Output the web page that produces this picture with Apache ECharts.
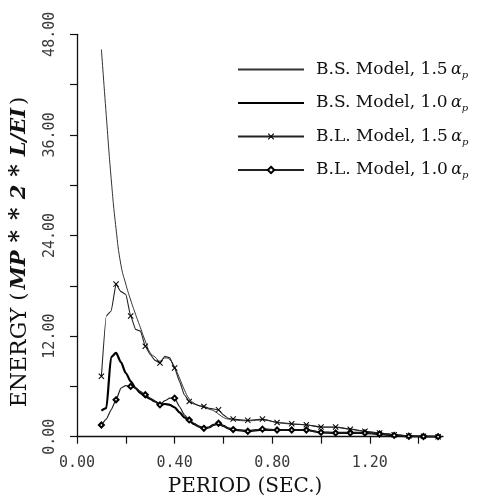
<!DOCTYPE html>
<html><head><meta charset="utf-8">
<script src="https://cdn.jsdelivr.net/npm/echarts@6/dist/echarts.min.js"></script>
<style>html,body{margin:0;padding:0;background:#fff}#c{width:490px;height:503px}</style>
</head><body><div id="c"></div>
<script>
const period = [0.10,0.12,0.14,0.16,0.18,0.20,0.22,0.24,0.26,0.28,0.30,0.32,0.34,0.36,0.38,0.40,0.42,0.44,0.46,0.48,0.50,0.52,0.54,0.56,0.58,0.60,0.62,0.64,0.70,0.76,0.82,0.88,0.94,1.00,1.06,1.12,1.18,1.24,1.30,1.36,1.42,1.48];
const bs15 = [46.2,38.3,30.8,24.8,20.5,18.2,16.3,14.6,13.0,11.4,10.0,9.5,9.0,9.4,9.2,8.3,7.0,5.6,4.5,4.0,3.7,3.5,3.3,3.1,2.7,2.3,2.1,2.0,1.9,2.0,1.7,1.5,1.4,1.15,1.1,0.9,0.65,0.45,0.25,0.1,0.05,0.0];
const bs10 = [3.1,3.4,9.5,10.0,8.9,7.6,6.6,5.8,5.2,4.8,4.5,4.2,3.8,3.9,3.8,3.5,2.9,2.3,1.9,1.5,1.2,1.0,1.1,1.4,1.55,1.3,1.0,0.85,0.65,0.85,0.8,0.8,0.8,0.5,0.45,0.45,0.45,0.32,0.15,0.05,0.0,0.0];
const bl15 = [7.2,14.4,15.0,18.2,17.3,17.0,14.4,12.8,12.6,10.8,9.8,9.1,8.8,9.6,9.4,8.2,6.6,5.0,4.2,3.9,3.7,3.6,3.4,3.3,3.2,2.6,2.2,2.1,1.95,2.1,1.7,1.55,1.43,1.15,1.15,0.9,0.64,0.44,0.24,0.1,0.05,0.0];
const bl10 = [1.4,2.1,3.2,4.4,5.8,6.1,6.0,5.8,5.4,5.0,4.6,4.2,3.8,4.3,4.6,4.6,3.6,2.6,2.0,1.6,1.2,1.0,1.1,1.4,1.6,1.3,1.0,0.85,0.65,0.9,0.8,0.8,0.8,0.52,0.45,0.45,0.44,0.32,0.16,0.05,0.02,0.0];
const seriesNames = ['B.S. Model, 1.5','B.S. Model, 1.0','B.L. Model, 1.5','B.L. Model, 1.0'];
const yTickValues = [0,6,12,18,24,30,36,42,48];
const yLabelValues = [0,12,24,36,48];
const xTickValues = [0,0.2,0.4,0.6,0.8,1.0,1.2,1.4];
const xLabelValues = [0,0.4,0.8,1.2];

const pair = arr => period.map((p, i) => [p, arr[i]]);
const markerSize = size => val => {
  const k = (val[0] - 0.10) / 0.06;
  return Math.abs(k - Math.round(k)) < 1e-6 ? size : 0;
};
const crossPath = 'path://M0,1.2L1.2,0L10,8.8L8.8,10ZM8.8,0L10,1.2L1.2,10L0,8.8Z';
const tickFont = {fontFamily: 'DejaVu Sans Mono', fontSize: 15, color: '#3a3a3a'};

const chart = echarts.init(document.getElementById('c'), null, {renderer: 'canvas'});
chart.setOption({
  backgroundColor: '#fff',
  animation: false,
  grid: {left: 72.3, right: 47, top: 34.3, bottom: 66.3, containLabel: false},
  legend: {
    orient: 'vertical', left: 237, top: 61, padding: 0,
    itemWidth: 66, itemHeight: 8, itemGap: 14.5,
    data: [
      {name: seriesNames[0], itemStyle: {opacity: 0}},
      {name: seriesNames[1], itemStyle: {opacity: 0}},
      {name: seriesNames[2]},
      {name: seriesNames[3]}
    ],
    formatter: n => `{t|${n}} {a|α}{p|p}`,
    textStyle: {
      padding: [0, 0, 0, 7],
      rich: {
        t: {fontFamily: 'DejaVu Serif', fontSize: 17, color: '#111', lineHeight: 21},
        a: {fontFamily: 'DejaVu Serif', fontStyle: 'italic', fontSize: 16, color: '#111', lineHeight: 21},
        p: {fontFamily: 'DejaVu Serif', fontStyle: 'italic', fontSize: 10, color: '#111', lineHeight: 21, verticalAlign: 'bottom', padding: [6, 0, 0, 0]}
      }
    }
  },
  xAxis: {
    type: 'value', min: 0, max: 1.5,
    name: 'PERIOD (SEC.)', nameLocation: 'middle', nameGap: 40,
    nameTextStyle: {fontFamily: 'DejaVu Serif', fontSize: 20, color: '#111', padding: [0, 30, 0, 0]},
    axisLine: {show: true, lineStyle: {color: '#111', width: 1.3}},
    axisTick: {show: true, customValues: xTickValues, length: 7, lineStyle: {color: '#111', width: 1.2}},
    axisLabel: {customValues: xLabelValues, margin: 19, formatter: v => v.toFixed(2), ...tickFont},
    splitLine: {show: false}
  },
  yAxis: {
    type: 'value', min: 0, max: 48,
    name: '{n|ENERGY }{b|(}{i|MP}{s|*}{s|*}{i|2}{s|*}{i|L/EI}{b|)}',
    nameLocation: 'middle', nameRotate: 90, nameGap: 45,
    nameTextStyle: {
      padding: [0, 33, 0, 0],
      rich: {
        n: {fontFamily: 'DejaVu Serif', fontSize: 22, color: '#111'},
        b: {fontFamily: 'DejaVu Serif', fontSize: 21, color: '#111'},
        i: {fontFamily: 'DejaVu Serif', fontStyle: 'italic', fontWeight: 'bold', fontSize: 21, color: '#111', padding: [0, 3]},
        s: {fontFamily: 'DejaVu Serif', fontWeight: 'bold', fontSize: 24, color: '#111', padding: [0, 5]}
      }
    },
    axisLine: {show: true, lineStyle: {color: '#111', width: 1.3}},
    axisTick: {show: true, customValues: yTickValues, length: 7, lineStyle: {color: '#111', width: 1.2}},
    axisLabel: {customValues: yLabelValues, rotate: 90, margin: 19, formatter: v => v.toFixed(2), ...tickFont},
    splitLine: {show: false}
  },
  series: [
    {name: seriesNames[0], type: 'line', data: pair(bs15), symbol: 'none', smooth: 0.5,
     lineStyle: {color: '#333', width: 1}, itemStyle: {color: '#333'}},
    {name: seriesNames[1], type: 'line', data: pair(bs10), symbol: 'none', smooth: 0.25, smoothMonotone: 'x',
     lineStyle: {color: '#000', width: 2.2}, itemStyle: {color: '#000'}},
    {name: seriesNames[2], type: 'line', data: pair(bl15), symbol: crossPath, symbolSize: markerSize(6), showAllSymbol: true,
     smooth: 0.15, smoothMonotone: 'x',
     lineStyle: {color: '#222', width: 1.1}, itemStyle: {color: '#000'}},
    {name: seriesNames[3], type: 'line', data: pair(bl10), symbol: 'emptyDiamond', symbolSize: markerSize(5), showAllSymbol: true,
     smooth: 0.15, smoothMonotone: 'x',
     lineStyle: {color: '#222', width: 1.2}, itemStyle: {color: '#000', borderWidth: 1.1}}
  ]
});
</script></body></html>
